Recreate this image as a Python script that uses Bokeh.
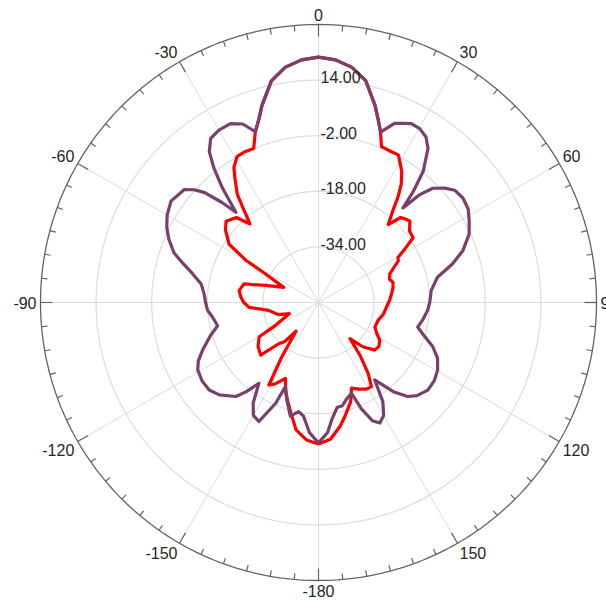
import numpy as np
from bokeh.plotting import figure
from bokeh.models import Range1d
from bokeh.embed import file_html
from bokeh.resources import INLINE
from bokeh.core.properties import value

# ---------------- data (angle in degrees, clockwise from top; gain in dB) ----------------
purple_angle = [-180, -176, -172.5, -169.7, -166.1, -162, -158.5, -157, -153.4, -150, -147, -143.6,
                -141, -138.7, -133, -128.7, -124, -119.2, -116, -112.4, -107, -103, -97.8, -94,
                -90, -85.7, -81, -77.2, -74, -71, -67, -63.7, -60, -55.5, -50, -47.8, -46, -44,
                -42.5, -40, -37.9, -35.9, -33.3, -30, -26.2, -23, -20.3, -18, -16, -12, -8, -4,
                0, 4, 8, 12, 16, 18, 20, 23, 25.3, 27.4, 30.2, 33, 35.4, 38.6, 40.5, 41.8, 43.2,
                45, 47.8, 50.5, 54.1, 58, 61.6, 65.6, 70.3, 74, 78, 84, 90, 94, 99, 103.9, 107,
                111.2, 115, 119.5, 124, 128.7, 133.4, 136.5, 140, 144, 147, 150, 153, 155.5, 158,
                160, 164, 167, 170, 173.6, 176, 180]
purple_db = [-9.6, -12.5, -17, -18.1, -16.3, -20.5, -24, -18.5, -11.7, -12.5, -15.5, -21.1,
             -17, -14, -11, -9.7, -9.6, -10.2, -11.5, -13.9, -17.5, -20.2, -19.2, -18,
             -17.5, -17, -15.8, -12.9, -9.5, -6, -3.2, -1.3, 0.3, 1.5, 0.5, -1.7, -4.5, -10,
             -14.8, -7, -1, 3.6, 6.5, 7.3, 7.4, 5.8, 2.4, 5.5, 9.0, 15.2, 18.4, 20.0,
             20.6, 20.0, 18.4, 15.3, 9.0, 5.5, 2.2, 6, 7, 8, 7.9, 6.8, 4.4, -1.7, -8, -13.5, -7.4,
             -3.5, -1, 0.8, 1.3, 0.8, -0.7, -2.4, -5.9, -10, -15, -17.4, -18, -18.5, -19.5, -20.6, -18.5,
             -14.7, -12.2, -10.6, -9.8, -9.7, -11, -12.7, -16.5, -22.5, -16, -12.5, -11.1, -12.6, -17,
             -22.2, -21, -19.5, -19.3, -16, -12.5, -9.6]

red_angle = [-180, -175, -170, -166, -163, -160, -156.4, -152, -149, -146, -142, -139, -136,
             -132.3, -126, -120, -118, -111, -107, -99, -94, -90, -86, -81.5, -76, -75, -72,
             -66.4, -61.7, -59.8, -56.9, -52, -48.7, -44, -41.1, -38.5, -36.9, -34, -32.1,
             -29.2, -26, -22.8, -20.3, -18, -16, -12, -8, -4,
             0, 4, 8, 12, 16, 18, 20, 22, 25, 28.4, 30, 32.4, 35, 37, 39, 41.8, 44, 46.5, 48.3,
             51.9, 55.6, 58, 60.5, 62.4, 65, 68.2, 72, 75, 78.5, 83, 88, 94, 100, 106.7, 113.5,
             118, 121.6, 126, 130.3, 135, 138.9, 141.8, 145, 147.8, 151, 155, 158.9, 162, 166.9,
             170, 175, 180]
red_db = [-9.3, -10.3, -12.8, -17.2, -20, -22.5, -26.2, -23.5, -22.3, -31, -39.5, -35, -33.5,
          -27.5, -28.5, -30.3, -36, -41, -38, -35.5, -30, -28.5, -27.6, -26.9, -27.9, -30, -34,
          -39.1, -32.7, -25.8, -19.3, -16, -14.6, -16, -20, -15, -11.1, -7, -4.2,
          -1.9, -1.7, -1.9, 2.4, 5.5, 9.0, 15.2, 18.4, 20.0,
          20.6, 20.0, 18.4, 15.3, 9.0, 5.5, 2.2, -1.6, -1.8, -1.7, -3.2, -5.3, -8.5, -12, -16, -19.9, -16, -15.2, -14.8,
          -16.7, -17, -20.5, -23.7, -24.1, -26, -27.9, -28.5, -27.8, -28.1, -28.8, -29.5, -30.4, -31, -32.1, -32.3,
          -31, -29.3, -28.5, -28.8, -32, -36.2, -30.7, -25.1, -21.4, -21.5, -22.5, -23.6, -20, -16.4,
          -13.9, -10.5, -9.3]

radial_ticks = [-34, -18, -2, 14]
radial_labels = ["-34.00", "-18.00", "-2.00", "14.00"]
r_min, r_max = -50, 30
angle_ticks = [0, 30, 60, 90, 120, 150, 180, -150, -120, -90, -60, -30]
angle_labels = ["0", "30", "60", "90", "120", "150", "-180", "-150", "-120", "-90", "-60", "-30"]

# ---------------- geometry ----------------
R = 278.0
S = R / (r_max - r_min)


def polar(ang, db):
    a = np.radians(np.asarray(ang, dtype=float))
    r = (np.asarray(db, dtype=float) - r_min) * S
    return r * np.sin(a), r * np.cos(a)


W, H = 606, 600
cx, cy = 318, 302  # pixel position of the centre inside the canvas
p = figure(width=W, height=H, output_backend="svg", toolbar_location=None,
           x_range=Range1d(-cx, W - cx), y_range=Range1d(-(H - cy), cy),
           min_border=0, tools="")
p.axis.visible = False
p.grid.visible = False
p.outline_line_color = None
p.background_fill_color = "white"
p.border_fill_color = "white"

GRID = "#dcdcdc"
# spokes
sp = np.arange(0, 360, 30)
xs = [[0, R * np.sin(np.radians(a))] for a in sp]
ys = [[0, R * np.cos(np.radians(a))] for a in sp]
p.multi_line(xs, ys, line_color=GRID, line_width=1)

# rings
full = np.linspace(0, 360, 361)
for t in radial_ticks:
    x, y = polar(full, [t] * len(full))
    p.line(x, y, line_color=GRID, line_width=1.2)

# outer circle
x, y = polar(full, [r_max] * len(full))
p.line(x, y, line_color="#626262", line_width=1.3)

# ticks (every 5 deg, longer at 30 deg)
txs, tys = [], []
for a in range(0, 360, 5):
    L = 12 if a % 30 == 0 else 6
    ar = np.radians(a)
    txs.append([R * np.sin(ar), (R - L) * np.sin(ar)])
    tys.append([R * np.cos(ar), (R - L) * np.cos(ar)])
p.multi_line(txs, tys, line_color="#626262", line_width=1.2)

# curves (red underneath, purple on top)
x, y = polar(red_angle, red_db)
p.line(x, y, line_color="#ff0000", line_width=3.2, line_join="round")
x, y = polar(purple_angle, purple_db)
p.line(x, y, line_color="#78406a", line_width=3.2, line_join="round")

FONT = value("Liberation Sans")
# radial labels
ry = [(t - r_min) * S + 3 for t in radial_ticks]
p.text(x=[2] * len(ry), y=ry, text=radial_labels, text_font=FONT, text_font_size="16px",
       text_color="#262626", text_align="left", text_baseline="middle")

# angle labels
for a, lab in zip(angle_ticks, angle_labels):
    ar = np.radians(a)
    s, c = np.sin(ar), np.cos(ar)
    off = 4
    x0 = (R + off) * s
    y0 = (R + off) * c
    align = "left" if s > 0.01 else ("right" if s < -0.01 else "center")
    base = "bottom" if c > 0.01 else ("top" if c < -0.01 else "middle")
    p.text(x=[x0], y=[y0], text=[lab], text_font=FONT, text_font_size="16px",
           text_color="#262626", text_align=align, text_baseline=base)

open("out.html", "w").write(file_html(p, INLINE))
